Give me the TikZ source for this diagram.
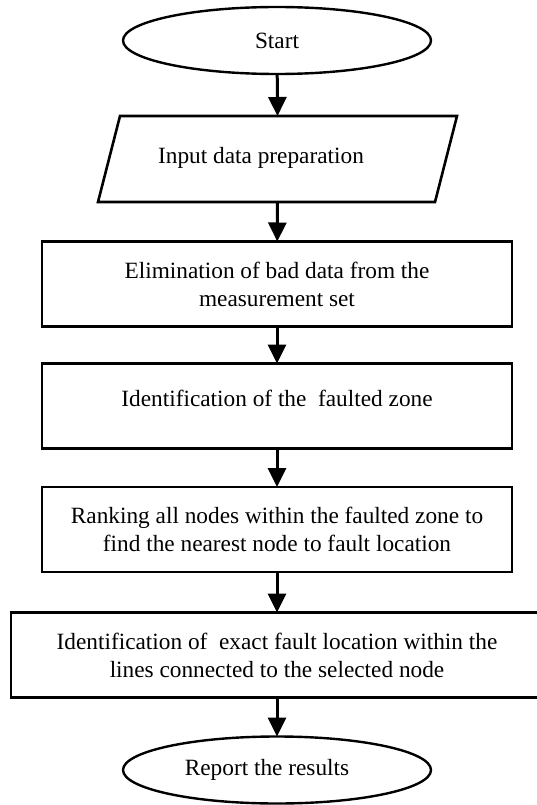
\documentclass[tikz,border=0pt]{standalone}
\usepackage{fontspec}
\setmainfont{Liberation Serif}
\usetikzlibrary{shapes.geometric,arrows.meta}
\begin{document}
\begin{tikzpicture}[x=1pt,y=1pt,
  every node/.style={outer sep=0pt, inner sep=0pt, font=\fontsize{23.3}{28}\selectfont, align=center},
  procbox/.style={draw, line width=2.6pt, minimum width=470pt, minimum height=85pt},
  terminal/.style={draw, ellipse, line width=2.4pt, minimum width=308pt, minimum height=67pt},
  flow/.style={line width=3pt, -{Triangle[width=18pt,length=19pt]}}]
\useasboundingbox (0,0) rectangle (536,-805);
\node[terminal] (start) at (277,-40.5) {Start};
\node[minimum width=359pt, minimum height=86pt] (inp) at (277.5,-159) {\raisebox{8pt}{Input data preparation}\hspace*{33pt}};
\draw[line width=2.6pt, line join=miter] ([xshift=22pt]inp.north west) -- (inp.north east) -- ([xshift=-22pt]inp.south east) -- (inp.south west) -- cycle;
\node[procbox] (elim) at (277,-284) {Elimination of bad data from the\\measurement set};
\node[procbox] (zone) at (277,-406) {\raisebox{16pt}{Identification of the\ \ faulted zone}};
\node[procbox] (rank) at (277,-529.5) {Ranking all nodes within the faulted zone to\\find the nearest node to fault location};
\node[procbox, minimum width=532pt] (exact) at (277,-655) {Identification of\ \ exact fault location within the\\lines connected to the selected node};
\node[terminal] (end) at (277,-770) {Report the results\hspace*{20pt}};
\draw[flow] (start) -- (inp.north);
\draw[flow] (inp.south) -- (elim);
\draw[flow] (elim) -- (zone);
\draw[flow] (zone) -- (rank);
\draw[flow] (rank) -- (exact);
\draw[flow] (exact) -- (end);
\end{tikzpicture}
\end{document}
